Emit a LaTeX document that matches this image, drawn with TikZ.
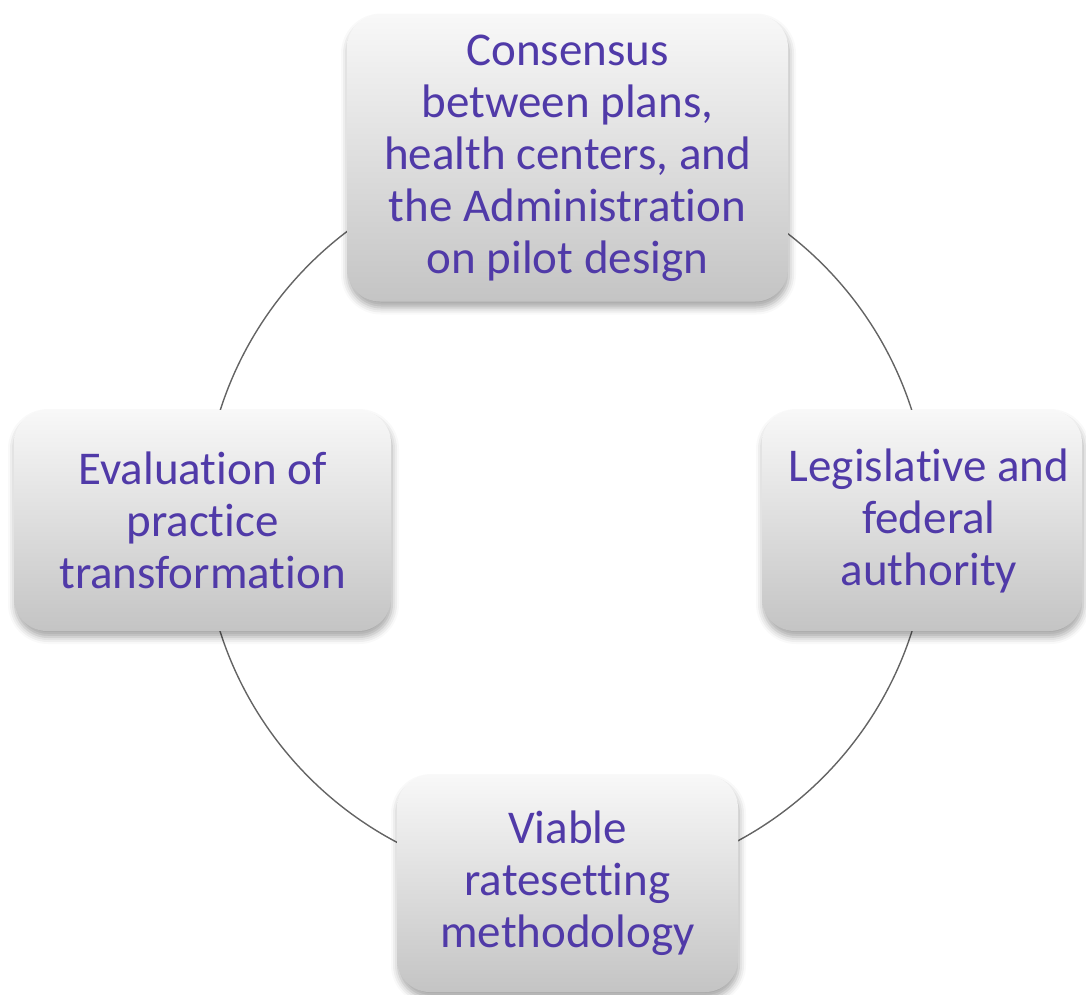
\documentclass[tikz,border=0pt]{standalone}
\usepackage{fontspec}
\setmainfont[Ligatures=NoCommon]{Carlito}
\usetikzlibrary{shadows.blur}
\definecolor{txtpurple}{RGB}{80,58,168}
\definecolor{ringgray}{RGB}{100,100,100}
\definecolor{boxtop}{RGB}{248,248,248}
\definecolor{boxbot}{RGB}{196,196,196}
\tikzset{
  stagebox/.style={rounded corners=33pt, top color=boxtop, bottom color=boxbot,
    draw=none, align=center, text=txtpurple, inner sep=0pt,
    font=\fontsize{47}{52}\selectfont,
    blur shadow={shadow xshift=1pt, shadow yshift=-6pt, shadow blur radius=7pt, shadow opacity=35}},
  ring/.style={draw=ringgray, line width=1.4pt}
}
\begin{document}
\begin{tikzpicture}[x=1pt,y=-1pt]
\useasboundingbox (0,0) rectangle (1086,994);
\coordinate (c) at (566,521);
\draw[ring] (c) circle[radius=363pt];
\node[stagebox, minimum width=441pt, minimum height=287pt] (top) at (567.5,158)
  {Consensus\\between plans,\\health centers, and\\the Administration\\on pilot design};
\node[stagebox, minimum width=320pt, minimum height=221pt] (right) at (922,520.5)
  {\hspace*{14pt}Legislative and\\\hspace*{14pt}federal\\\hspace*{14pt}authority};
\node[stagebox, minimum width=341pt, minimum height=217pt] (bottom) at (567.5,883.5)
  {Viable\\ratesetting\\methodology};
\node[stagebox, minimum width=377pt, minimum height=221pt] (left) at (202.5,520.5)
  {Evaluation of\\practice\\transformation};
\end{tikzpicture}
\end{document}
